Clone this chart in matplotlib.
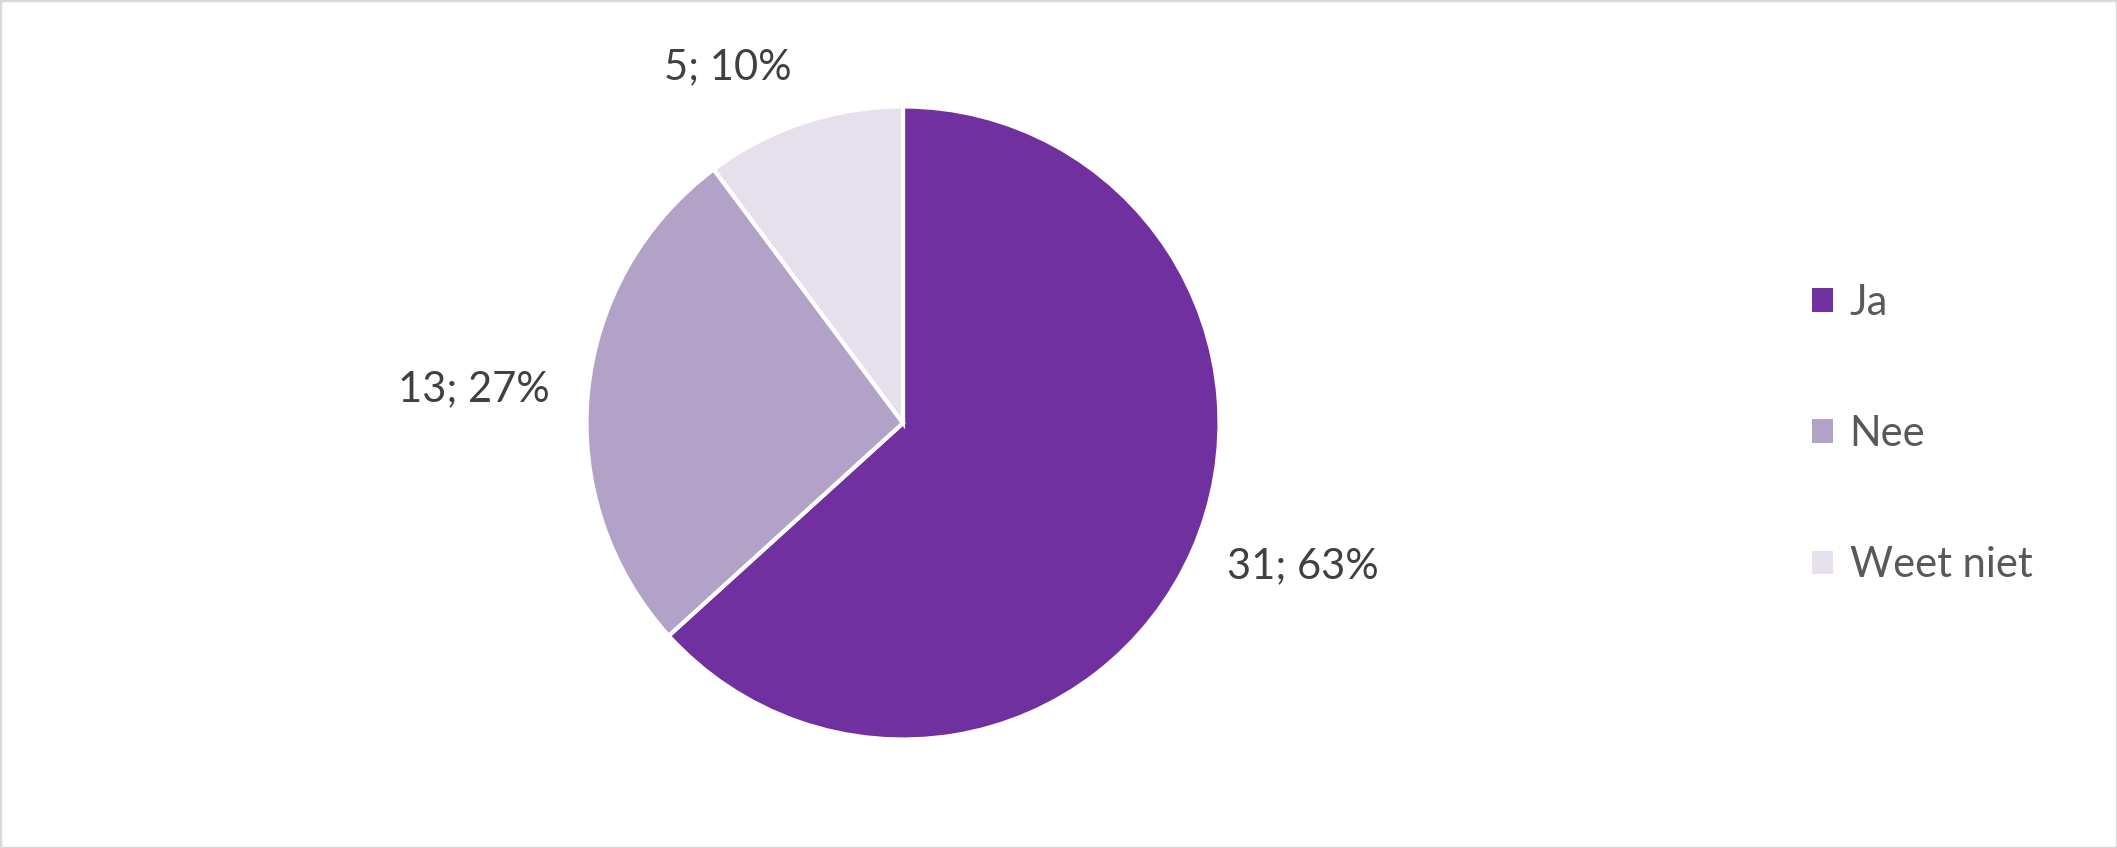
import numpy as np
import matplotlib
matplotlib.use("Agg")
import matplotlib.pyplot as plt
from matplotlib.patches import Patch, Rectangle

labels = ["Ja", "Nee", "Weet niet"]
counts = [31, 13, 5]
colors = ["#7030A0", "#B3A2C7", "#E6E0EC"]

plt.rcParams['font.family'] = ['Lato', 'DejaVu Sans']

W, H = 2117, 848
fig = plt.figure(figsize=(W / 100, H / 100), dpi=100)

# pie centre / radius in pixels
cx, cy, R = 903, 425, 316.5
half = 1.4
ax = fig.add_axes([(cx - half * R) / W, (cy - half * R) / H, 2 * half * R / W, 2 * half * R / H])

wedges, _ = ax.pie(counts, colors=colors, startangle=90, counterclock=False,
                   wedgeprops=dict(edgecolor="white", linewidth=3))
ax.set_xlim(-half, half)
ax.set_ylim(-half, half)
ax.set_aspect("equal")
ax.axis("off")

total = sum(counts)
for w, c in zip(wedges, counts):
    mid = np.deg2rad((w.theta1 + w.theta2) / 2)
    r = 1.12
    x, y = r * np.cos(mid), r * np.sin(mid)
    ha = "left" if x > 0 else "right"
    va = "bottom" if y > 0.5 else ("top" if y < -0.5 else "center")
    ax.text(x, y, f"{c}; {round(100 * c / total)}%", ha=ha, va=va,
            fontsize=30, color="#404040")

handles = [Patch(facecolor=col, edgecolor="none") for col in colors]
fig.legend(handles, labels, loc="center left", bbox_to_anchor=(1812 / W, 1 - 434 / H),
           frameon=False, fontsize=30, labelcolor="#595959",
           handlelength=0.5, handleheight=0.5, handletextpad=0.4,
           labelspacing=2.24, borderpad=0, borderaxespad=0)

fig.patches.append(Rectangle((0, 0), 1, 1, transform=fig.transFigure, fill=False,
                             edgecolor="#D9D9D9", linewidth=2.5))

fig.savefig("out.png", dpi=100)
